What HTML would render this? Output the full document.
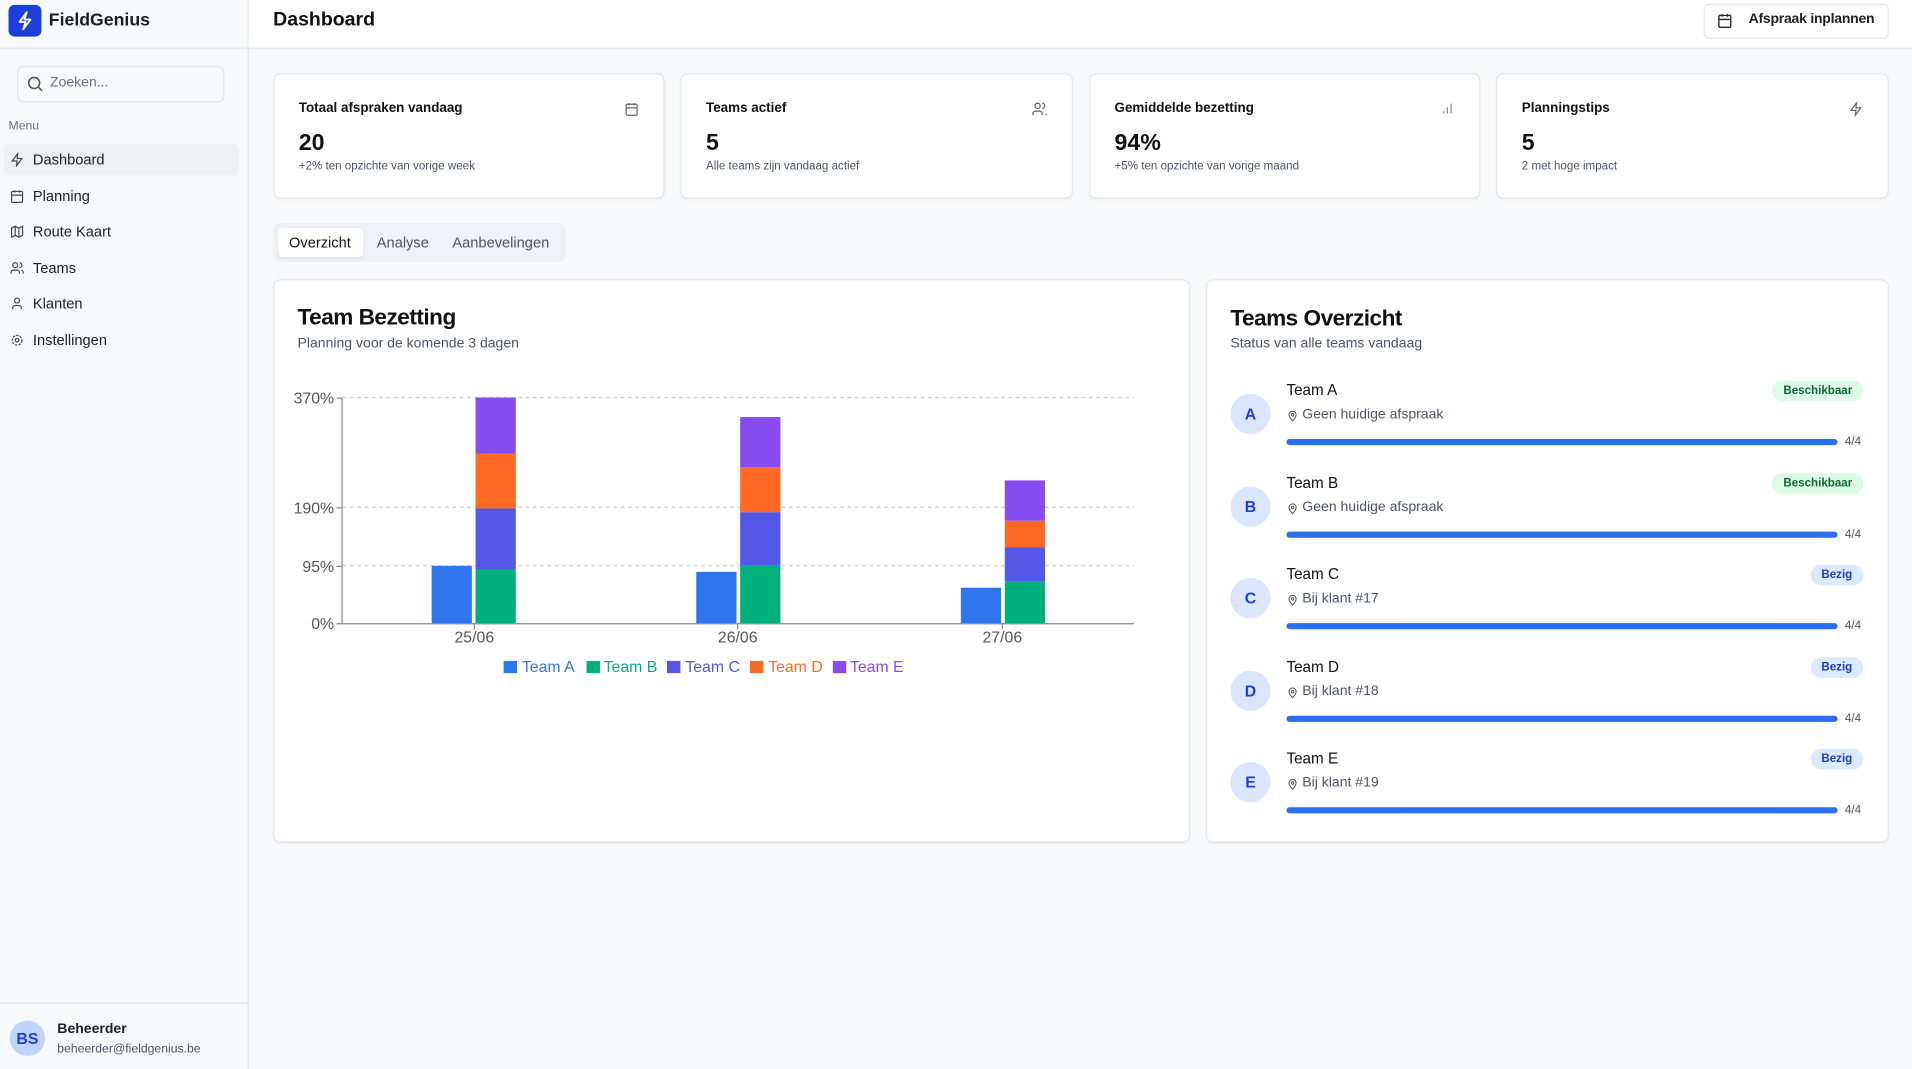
<!DOCTYPE html>
<html><head><meta charset="utf-8">
<style>
*{box-sizing:border-box;margin:0;padding:0}
html,body{width:1912px;height:1069px;overflow:hidden;background:#f8f9fb}
#w{position:absolute;left:0;top:0;width:1568px;height:877px;transform:scale(1.21939);transform-origin:0 0;font-family:"Liberation Sans",sans-serif;color:#0f1115;background:#f8f9fb}
.a{position:absolute;white-space:nowrap}
.card{position:absolute;background:#fff;border:1px solid #e3e7ee;border-radius:6px;box-shadow:0 1px 2px rgba(0,0,0,.04)}
.nav{position:absolute;left:8px;font-size:12px;color:#1c1f26;display:flex;align-items:center;gap:7px}
.nav svg{width:12px;height:12px;stroke:#444a55;fill:none;stroke-width:2}
.st{font-size:11px;font-weight:bold;left:20px;top:22px}
.sv{font-size:19px;font-weight:bold;left:20px;top:46px}
.ss{font-size:9.5px;color:#4b5563;left:20px;top:70px}
.badge{position:absolute;right:20px;height:17px;border-radius:9px;font-size:9.5px;font-weight:bold;padding:0 9px;line-height:17px}
.g{background:#dcfce7;color:#166534}.b{background:#dbeafe;color:#1e40af}
</style></head><body><div id="w">
<div class="a" style="left:0;top:0;width:204px;height:877px;border-right:1px solid #e3e7ee;background:#f8f9fb"></div>
<div class="a" style="left:0;top:39px;width:1568px;height:1px;background:#e3e7ee"></div>
<div class="a" style="left:204px;top:0;width:1364px;height:39px;background:#fff"></div>
<div class="a" style="left:7px;top:4px;width:27px;height:26px;border-radius:5px;background:#1d3fd8"><svg width="27" height="26" viewBox="0 0 27 26"><path d="M15 6 L9 14 H14 L12 20 L18 12 H13 Z" fill="none" stroke="#fff" stroke-width="1.5" stroke-linejoin="round"/></svg></div>
<div class="a" style="left:40px;top:9px;font-size:14.5px;font-weight:bold;color:#1c1f26">FieldGenius</div>
<div class="a" style="left:14px;top:54px;width:170px;height:30px;border:1px solid #e3e7ee;border-radius:5px;background:#f8f9fb"></div>
<svg class="a" style="left:22px;top:62px" width="14" height="14"><circle cx="6" cy="6" r="4.5" fill="none" stroke="#555" stroke-width="1.3"/><path d="M9.5 9.5 L12.5 12.5" stroke="#555" stroke-width="1.3"/></svg>
<div class="a" style="left:41px;top:62px;font-size:11.5px;color:#6b7280">Zoeken...</div>
<div class="a" style="left:7px;top:98px;font-size:10px;color:#6b7280">Menu</div>
<div class="a" style="left:3px;top:118px;width:193px;height:26px;border-radius:5px;background:#eef0f3"></div>
<div class="nav" style="top:124px"><svg viewBox="0 0 24 24"><path d="M13 2 L4 14 H12 L11 22 L20 10 H12 Z"/></svg>Dashboard</div>
<div class="nav" style="top:154px"><svg viewBox="0 0 24 24"><rect x="3" y="4" width="18" height="18" rx="2"/><path d="M3 10H21M8 2V6M16 2V6"/></svg>Planning</div>
<div class="nav" style="top:183px"><svg viewBox="0 0 24 24"><path d="M3 6 L9 3 L15 6 L21 3 V18 L15 21 L9 18 L3 21 Z M9 3V18 M15 6V21"/></svg>Route Kaart</div>
<div class="nav" style="top:213px"><svg viewBox="0 0 24 24"><circle cx="9" cy="7" r="4"/><path d="M2 21 V19 A4 4 0 0 1 6 15 H12 A4 4 0 0 1 16 19 V21 M16 3 A4 4 0 0 1 16 11 M22 21 V19 A4 4 0 0 0 19 15"/></svg>Teams</div>
<div class="nav" style="top:242px"><svg viewBox="0 0 24 24"><circle cx="12" cy="7" r="4"/><path d="M5 21 V19 A4 4 0 0 1 9 15 H15 A4 4 0 0 1 19 19 V21"/></svg>Klanten</div>
<div class="nav" style="top:272px"><svg viewBox="0 0 24 24"><circle cx="12" cy="12" r="3"/><circle cx="12" cy="12" r="8" stroke-dasharray="4 2"/></svg>Instellingen</div>
<div class="a" style="left:0;top:822px;width:204px;height:1px;background:#e3e7ee"></div>
<div class="a" style="left:8px;top:837px;width:29px;height:29px;border-radius:50%;background:#bfd4fb;color:#1d3fd8;font-size:13px;font-weight:bold;text-align:center;line-height:29px">BS</div>
<div class="a" style="left:47px;top:838px;font-size:11.5px;font-weight:bold;color:#1c1f26">Beheerder</div>
<div class="a" style="left:47px;top:855px;font-size:10px;color:#4b5563">beheerder@fieldgenius.be</div>
<div class="a" style="left:224px;top:8px;font-size:16px;font-weight:bold">Dashboard</div>
<div class="a" style="left:1397px;top:3px;width:152px;height:29px;border:1px solid #e3e7ee;border-radius:5px;background:#fff"></div>
<svg class="a" style="left:1408px;top:10px" width="13" height="14" viewBox="0 0 24 24" fill="none" stroke="#222" stroke-width="2"><rect x="3" y="4" width="18" height="18" rx="2"/><path d="M3 10H21M8 2V6M16 2V6"/></svg>
<div class="a" style="left:1434px;top:10px;font-size:11.5px;font-weight:bold;color:#1c1f26;letter-spacing:-.2px">Afspraak inplannen</div>
<div class="card" style="left:224px;top:60px;width:321px;height:103px"><div class="a st">Totaal afspraken vandaag</div><div class="a sv">20</div><div class="a ss">+2% ten opzichte van vorige week</div><svg class="a" style="right:20px;top:22px" width="12" height="13" viewBox="0 0 24 24" fill="none" stroke="#666" stroke-width="2"><rect x="3" y="4" width="18" height="18" rx="2"/><path d="M3 10H21M8 2V6M16 2V6"/></svg></div>
<div class="card" style="left:558px;top:60px;width:322px;height:103px"><div class="a st">Teams actief</div><div class="a sv">5</div><div class="a ss">Alle teams zijn vandaag actief</div><svg class="a" style="right:20px;top:22px" width="13" height="13" viewBox="0 0 24 24" fill="none" stroke="#666" stroke-width="2"><circle cx="9" cy="7" r="4"/><path d="M2 21 V19 A4 4 0 0 1 6 15 H12 A4 4 0 0 1 16 19 V21 M16 3 A4 4 0 0 1 16 11 M22 21 V19"/></svg></div>
<div class="card" style="left:893px;top:60px;width:321px;height:103px"><div class="a st">Gemiddelde bezetting</div><div class="a sv">94%</div><div class="a ss">+5% ten opzichte van vorige maand</div><svg class="a" style="right:20px;top:22px" width="12" height="12" viewBox="0 0 24 24" fill="none" stroke="#888" stroke-width="2"><path d="M6 20V16M12 20V10M18 20V4"/></svg></div>
<div class="card" style="left:1227px;top:60px;width:322px;height:103px"><div class="a st">Planningstips</div><div class="a sv">5</div><div class="a ss">2 met hoge impact</div><svg class="a" style="right:20px;top:22px" width="12" height="13" viewBox="0 0 24 24" fill="none" stroke="#666" stroke-width="2"><path d="M13 2 L4 14 H12 L11 22 L20 10 H12 Z"/></svg></div>
<div class="a" style="left:224px;top:183px;width:240px;height:32px;border-radius:6px;background:#eef1f5"></div>
<div class="a" style="left:228px;top:187px;width:70px;height:24px;border-radius:4px;background:#fff;box-shadow:0 1px 2px rgba(0,0,0,.06)"></div>
<div class="a" style="left:237px;top:192px;font-size:12px;color:#111">Overzicht</div>
<div class="a" style="left:309px;top:192px;font-size:12px;color:#4b5563">Analyse</div>
<div class="a" style="left:371px;top:192px;font-size:12px;color:#4b5563">Aanbevelingen</div>
<div class="card" style="left:224px;top:229px;width:752px;height:462px"></div>
<div class="a" style="left:244px;top:249px;font-size:18.5px;font-weight:bold;letter-spacing:-.4px">Team Bezetting</div>
<div class="a" style="left:244px;top:276px;font-size:11.5px;color:#4b5563">Planning voor de komende 3 dagen</div>
<svg class="a" style="left:0;top:0" width="1568" height="877" font-family="Liberation Sans, sans-serif">
<g stroke="#ccc" stroke-dasharray="3 3"><path d="M281 326H930M281 416H930M281 464H930"/></g>
<path d="M280.5 326V511.5H930" stroke="#888" fill="none"/>
<g stroke="#888"><path d="M276 326.5H280M276 416.5H280M276 464.5H280M276 511.5H280M389 511V516M605 511V516M822 511V516"/></g>
<g font-size="13" fill="#555" text-anchor="end"><text x="274" y="331">370%</text><text x="274" y="421">190%</text><text x="274" y="469">95%</text><text x="274" y="516">0%</text></g>
<g font-size="13" fill="#555" text-anchor="middle"><text x="389" y="527">25/06</text><text x="605" y="527">26/06</text><text x="822" y="527">27/06</text></g>
<g>
<rect x="354" y="464" width="33" height="47" fill="#2f76ec"/>
<rect x="390" y="467" width="33" height="44" fill="#00b07a"/><rect x="390" y="417" width="33" height="50" fill="#5558e6"/><rect x="390" y="372" width="33" height="45" fill="#fd6a24"/><rect x="390" y="326" width="33" height="46" fill="#854cef"/>
<rect x="571" y="469" width="33" height="42" fill="#2f76ec"/>
<rect x="607" y="464" width="33" height="47" fill="#00b07a"/><rect x="607" y="420" width="33" height="44" fill="#5558e6"/><rect x="607" y="383" width="33" height="37" fill="#fd6a24"/><rect x="607" y="342" width="33" height="41" fill="#854cef"/>
<rect x="788" y="482" width="33" height="29" fill="#2f76ec"/>
<rect x="824" y="477" width="33" height="34" fill="#00b07a"/><rect x="824" y="449" width="33" height="28" fill="#5558e6"/><rect x="824" y="427" width="33" height="22" fill="#fd6a24"/><rect x="824" y="394" width="33" height="33" fill="#854cef"/>
</g>
<g font-size="13">
<rect x="413" y="542" width="11" height="10" fill="#2f76ec"/><text x="428" y="551" fill="#2f76ec">Team A</text>
<rect x="481" y="542" width="11" height="10" fill="#00b07a"/><text x="495" y="551" fill="#00b07a">Team B</text>
<rect x="547" y="542" width="11" height="10" fill="#5558e6"/><text x="562" y="551" fill="#5558e6">Team C</text>
<rect x="615" y="542" width="11" height="10" fill="#fd6a24"/><text x="630" y="551" fill="#fd6a24">Team D</text>
<rect x="683" y="542" width="11" height="10" fill="#854cef"/><text x="697" y="551" fill="#854cef">Team E</text>
</g>
</svg>
<div class="card" style="left:989px;top:229px;width:560px;height:462px">
<div class="a" style="left:19px;top:20px;font-size:18.5px;font-weight:bold;letter-spacing:-.4px">Teams Overzicht</div>
<div class="a" style="left:19px;top:46px;font-size:11.5px;color:#4b5563">Status van alle teams vandaag</div>
</div>
<div id="teams"></div>
<script>
var t=[["A","Geen huidige afspraak","Beschikbaar","g"],["B","Geen huidige afspraak","Beschikbaar","g"],["C","Bij klant #17","Bezig","b"],["D","Bij klant #18","Bezig","b"],["E","Bij klant #19","Bezig","b"]];
var h="";t.forEach(function(r,i){var y=320+i*75.5;
h+='<div class="a" style="left:1009px;top:'+(y+3)+'px;width:33px;height:33px;border-radius:50%;background:#dbe6fe;color:#1d3fd8;font-weight:bold;font-size:13px;text-align:center;line-height:33px">'+r[0]+'</div>';
h+='<div class="a" style="left:1055px;top:'+(y-7)+'px;font-size:12.5px;color:#111">Team '+r[0]+'</div>';
h+='<svg class="a" style="left:1055px;top:'+(y+15)+'px" width="10" height="12" viewBox="0 0 24 24" fill="none" stroke="#555" stroke-width="2"><path d="M12 22s-7-7-7-12a7 7 0 0 1 14 0c0 5-7 12-7 12z"/><circle cx="12" cy="10" r="2.5"/></svg>';
h+='<div class="a" style="left:1068px;top:'+(y+14)+'px;font-size:11.5px;color:#4b5563">'+r[1]+'</div>';
h+='<div class="a" style="left:1055px;top:'+(y+40)+'px;width:452px;height:5px;border-radius:3px;background:#2b6ff0"></div>';
h+='<div class="a" style="left:1513px;top:'+(y+37)+'px;font-size:9.5px;color:#4b5563">4/4</div>';
h+='<div class="badge '+r[3]+'" style="right:40px;top:'+(y-8)+'px">'+r[2]+'</div>';});
document.getElementById("teams").innerHTML=h;
</script>
</div></body></html>
